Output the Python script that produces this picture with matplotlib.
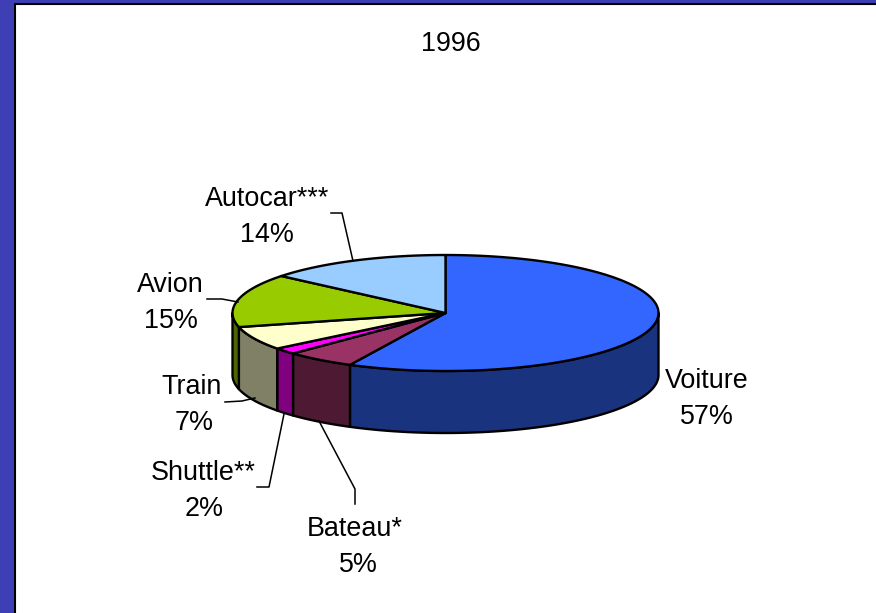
import numpy as np
import matplotlib
matplotlib.use('Agg')
import matplotlib.pyplot as plt
from matplotlib.patches import Polygon, Rectangle

categories = ['Voiture', 'Bateau*', 'Shuttle**', 'Train', 'Avion', 'Autocar***']
# shares as measured off the slice angles, the labels show them rounded
shares = [57.4, 5.3, 1.8, 6.6, 14.9, 14.0]
title = '1996'

top_colors = ['#3366FF', '#993366', '#FF00FF', '#FFFFCC', '#99CC00', '#99CCFF']
side_colors = ['#1A337F', '#4D1933', '#800080', '#808066', '#4D6600', '#4D667F']

# pie geometry in pixels
CX, CY = 445.5, 313
RX, RY = 213, 58
DEPTH = 62
FONT = 19.4

# label positions (x and baseline of name line, x and baseline of value line)
label_pos = {
    'Voiture': (706.5, 388, 706.5, 424),
    'Bateau*': (355, 536, 358, 572),
    'Shuttle**': (203.5, 480, 204, 516),
    'Train': (192, 394, 194.5, 430),
    'Avion': (170, 292, 171, 328),
    'Autocar***': (267.5, 206, 267, 242),
}
leaders = [
    ([331, 342, 353], [213, 213, 261]),
    ([207, 222, 238], [299, 299, 302]),
    ([225, 242, 255], [402, 401, 398]),
    ([284, 269, 257], [414, 487, 487]),
    ([319, 355, 355], [421, 489, 504]),
]


def ell(a):
    return CX + RX * np.cos(a), CY - RY * np.sin(a)


def main():
    fig = plt.figure(figsize=(8.76, 6.13), dpi=100)
    ax = fig.add_axes([0, 0, 1, 1])
    ax.set_xlim(0, 876)
    ax.set_ylim(613, 0)
    ax.axis('off')
    plt.rcParams['font.family'] = ['Liberation Sans', 'DejaVu Sans']

    # page background and frame
    ax.add_patch(Rectangle((0, 0), 876, 613, fc='#3F3FB5', ec='none', zorder=0))
    ax.add_patch(Rectangle((15, 4), 861, 609, fc='white', ec='none', zorder=1))
    ax.plot([15, 15, 876], [613, 4, 4], color='black', lw=1.5, zorder=2)

    # slices run clockwise from 12 o'clock
    edges = np.pi / 2 - 2 * np.pi * np.cumsum([0] + shares) / sum(shares)

    # side walls, only the part of the rim facing the viewer
    for i in range(len(shares)):
        a0 = min(edges[i], 0.0)
        a1 = max(edges[i + 1], -np.pi)
        if a1 >= a0:
            continue
        t = np.linspace(a0, a1, 80)
        x, y = ell(t)
        pts = np.column_stack([np.r_[x, x[::-1]], np.r_[y, y[::-1] + DEPTH]])
        ax.add_patch(Polygon(pts, fc=side_colors[i], ec='black', lw=1.7, joinstyle='round', zorder=3))

    # top face
    for i in range(len(shares)):
        t = np.linspace(edges[i], edges[i + 1], 120)
        x, y = ell(t)
        pts = np.column_stack([np.r_[CX, x], np.r_[CY, y]])
        ax.add_patch(Polygon(pts, fc=top_colors[i], ec='black', lw=1.7, joinstyle='round', zorder=4))

    for lx, ly in leaders:
        ax.plot(lx, ly, color='black', lw=1.1, zorder=5)

    for name, share in zip(categories, shares):
        x1, y1, x2, y2 = label_pos[name]
        ax.text(x1, y1, name, fontsize=FONT, ha='center', va='baseline', zorder=6)
        ax.text(x2, y2, '%d%%' % round(share), fontsize=FONT, ha='center', va='baseline', zorder=6)

    ax.text(451, 51, title, fontsize=FONT, ha='center', va='baseline', zorder=6)
    fig.savefig('out.png', dpi=100)


if __name__ == '__main__':
    main()
